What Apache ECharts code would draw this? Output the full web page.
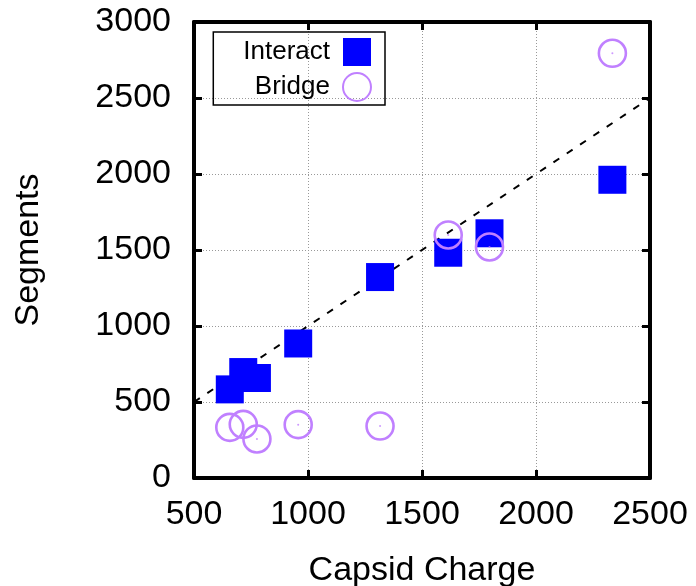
<!DOCTYPE html>
<html>
<head>
<meta charset="utf-8">
<script src="https://cdn.jsdelivr.net/npm/echarts@6/dist/echarts.min.js"></script>
<style>
html,body{margin:0;padding:0;background:#fff;}
#chart{width:696px;height:586px;}
</style>
</head>
<body>
<div id="chart"></div>
<script>
// Data
var capsidCharge = [657, 716, 776, 957, 1316, 1615, 1796, 2335];
var interactSegments = [583, 697, 658, 885, 1322, 1482, 1610, 1962];
var bridgeSegments = [333, 353, 257, 351, 342, 1599, 1520, 2794];
var guideLine = [[500, 500], [2500, 2500]];
var xTicks = [500, 1000, 1500, 2000, 2500];
var yTicks = [0, 500, 1000, 1500, 2000, 2500, 3000];

var FONT = "'Liberation Sans', Arial, sans-serif";
function pairs(xs, ys) { return xs.map(function (x, i) { return [x, ys[i]]; }); }
function plain(v) { return String(v); }

var chart = echarts.init(document.getElementById('chart'), null, {renderer: 'canvas'});
var axisLineStyle = {color: '#000', width: 4};
var gridLineStyle = {color: '#999', width: 1, type: [1, 2]};

var option = {
  backgroundColor: '#fff',
  animation: false,
  grid: {left: 194, top: 22, width: 456, height: 456, containLabel: false, outerBoundsMode: 'none'},
  legend: {
    orient: 'vertical',
    align: 'right',
    right: 311,
    top: 32,
    itemWidth: 28,
    itemHeight: 28,
    itemGap: 6,
    padding: [6, 13, 3, 30],
    borderColor: '#000',
    borderWidth: 1.5,
    selectedMode: false,
    textStyle: {fontFamily: FONT, fontSize: 26, color: '#000', padding: [0, 8, 0, 0]},
    data: ['Interact', 'Bridge']
  },
  xAxis: [{
    type: 'value', position: 'bottom', min: xTicks[0], max: xTicks[xTicks.length - 1], interval: 500,
    axisLine: {onZero: false, lineStyle: axisLineStyle},
    axisTick: {inside: true, length: 8, lineStyle: {color: '#000', width: 3}},
    axisLabel: {fontFamily: FONT, fontSize: 34, color: '#000', margin: 20, formatter: plain},
    splitLine: {show: true, lineStyle: gridLineStyle},
    name: 'Capsid Charge', nameLocation: 'middle', nameGap: 76,
    nameTextStyle: {fontFamily: FONT, fontSize: 34, color: '#000'}
  }, {
    type: 'value', position: 'top', min: xTicks[0], max: xTicks[xTicks.length - 1], interval: 500,
    axisLine: {onZero: false, lineStyle: axisLineStyle},
    axisTick: {inside: true, length: 8, lineStyle: {color: '#000', width: 3}},
    axisLabel: {show: false}, splitLine: {show: false}
  }],
  yAxis: [{
    type: 'value', position: 'left', min: yTicks[0], max: yTicks[yTicks.length - 1], interval: 500,
    axisLine: {onZero: false, lineStyle: axisLineStyle},
    axisTick: {inside: true, length: 8, lineStyle: {color: '#000', width: 3}},
    axisLabel: {fontFamily: FONT, fontSize: 34, color: '#000', margin: 23, formatter: plain},
    splitLine: {show: true, lineStyle: gridLineStyle},
    name: 'Segments', nameLocation: 'middle', nameGap: 148, nameRotate: 90,
    nameTextStyle: {fontFamily: FONT, fontSize: 34, color: '#000'}
  }, {
    type: 'value', position: 'right', min: yTicks[0], max: yTicks[yTicks.length - 1], interval: 500,
    axisLine: {onZero: false, lineStyle: axisLineStyle},
    axisTick: {inside: true, length: 8, lineStyle: {color: '#000', width: 3}},
    axisLabel: {show: false}, splitLine: {show: false}
  }],
  series: [{
    name: 'guide', type: 'line', data: guideLine, symbol: 'none', silent: true,
    lineStyle: {color: '#000', width: 2, type: [7, 9]}, z: 1
  }, {
    name: 'Interact', type: 'scatter', data: pairs(capsidCharge, interactSegments),
    symbol: 'rect', symbolSize: 28,
    itemStyle: {color: '#0000ff', opacity: 1}, z: 2
  }, {
    name: 'Bridge', type: 'scatter', data: pairs(capsidCharge, bridgeSegments),
    symbol: 'circle', symbolSize: 27,
    itemStyle: {color: 'rgba(0,0,0,0)', borderColor: '#c080ff', borderWidth: 2.6, opacity: 1}, z: 3
  }, {
    name: 'BridgeCenter', type: 'scatter', data: pairs(capsidCharge, bridgeSegments),
    symbol: 'circle', symbolSize: 2, silent: true,
    itemStyle: {color: '#c080ff'}, z: 3
  }]
};
chart.setOption(option);
</script>
</body>
</html>
